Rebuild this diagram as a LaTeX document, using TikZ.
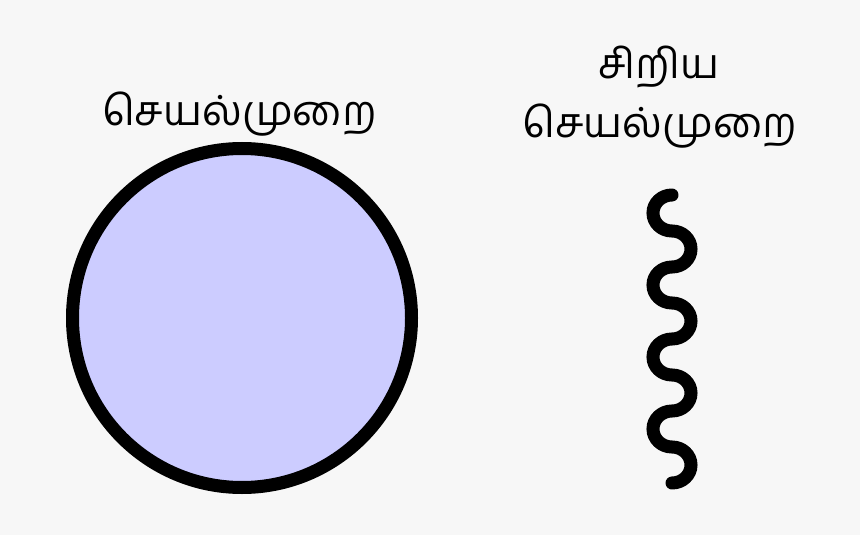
\documentclass[tikz,border=0pt]{standalone}
\usepackage{fontspec}
\newfontfamily\tamilfont[Script=Tamil]{Hind Madurai}
\definecolor{bgcol}{HTML}{F7F7F7}
\definecolor{procfill}{HTML}{CCCCFF}
\begin{document}
\begin{tikzpicture}[x=1pt,y=-1pt,
    tamil/.style={font=\tamilfont\fontsize{41.5}{48}\selectfont, anchor=base, inner sep=0pt}]
  \fill[bgcol] (0,0) rectangle (860,535);
  \useasboundingbox (0,0) rectangle (860,535);
  % full process
  \node[tamil] (proc) at (239.5,125) {செயல்முறை};
  \node[circle, draw, line width=13pt, fill=procfill, minimum size=339pt] (ball) at (242,318) {};
  % small process
  \node[tamil] (small) at (659,78) {சிறிய};
  \node[tamil] (smallproc) at (660,137) {செயல்முறை};
  \coordinate (wave) at (672,195);
  \draw[line width=13pt, line cap=round] (wave)
    \foreach \i in {1,...,4} { arc(270:90:19 and 18) arc(-90:90:19 and 18) };
\end{tikzpicture}
\end{document}
